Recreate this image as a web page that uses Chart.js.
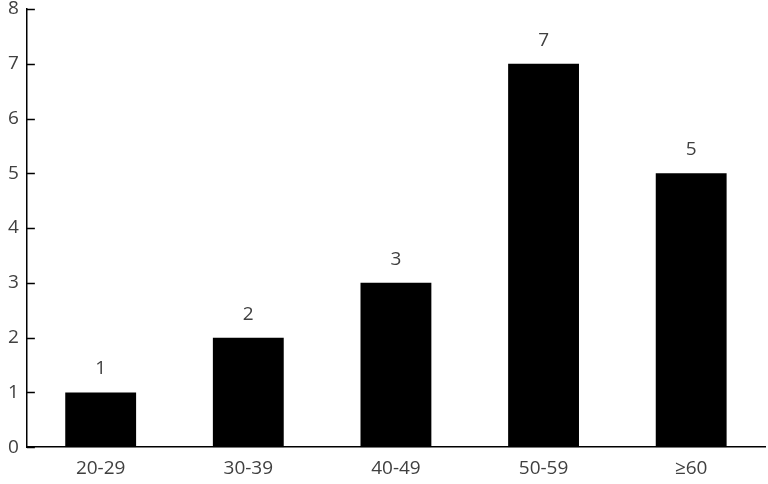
<!DOCTYPE html>
<html>
<head>
<meta charset="utf-8">
<script src="https://cdn.jsdelivr.net/npm/chart.js@4/dist/chart.umd.min.js"></script>
<style>
  html, body { margin: 0; padding: 0; background: #fff; }
  #wrap { width: 768px; height: 484px; }
</style>
</head>
<body>
<div id="wrap"><canvas id="chart"></canvas></div>
<script>
const categories = ['20-29', '30-39', '40-49', '50-59', '≥60'];
const counts = [1, 2, 3, 7, 5];
const yTicks = [0, 1, 2, 3, 4, 5, 6, 7, 8];

const FONT = '"Open Sans", "Liberation Sans", sans-serif';
const TEXT_COLOR = '#404040';

// y ticks point inward, like the source
const innerTicks = {
    id: 'innerTicks',
    afterDraw(chart) {
        const y = chart.scales.y;
        const ctx = chart.ctx;
        ctx.save();
        ctx.strokeStyle = '#000';
        ctx.lineWidth = 1.5;
        yTicks.forEach(v => {
            const py = Math.round(y.getPixelForValue(v)) + 0.5;
            ctx.beginPath();
            ctx.moveTo(y.right, py);
            ctx.lineTo(y.right + 8, py);
            ctx.stroke();
        });
        ctx.restore();
    }
};

const valueLabels = {
    id: 'valueLabels',
    afterDatasetsDraw(chart) {
        const ctx = chart.ctx;
        const meta = chart.getDatasetMeta(0);
        ctx.save();
        ctx.fillStyle = TEXT_COLOR;
        ctx.font = '19px ' + FONT;
        ctx.textAlign = 'center';
        ctx.textBaseline = 'bottom';
        meta.data.forEach((bar, i) => {
            ctx.fillText(String(counts[i]), bar.x, bar.y - 14);
        });
        ctx.restore();
    }
};

new Chart(document.getElementById('chart'), {
    type: 'bar',
    data: {
        labels: categories,
        datasets: [{
            data: counts,
            backgroundColor: '#000',
            borderWidth: 0,
            barPercentage: 0.48,
            categoryPercentage: 1.0
        }]
    },
    options: {
        responsive: true,
        maintainAspectRatio: false,
        animation: false,
        layout: { padding: { top: 0, right: 3, left: 0, bottom: -6 } },
        plugins: { legend: { display: false }, tooltip: { enabled: false } },
        scales: {
            x: {
                grid: { display: false, drawTicks: false },
                border: { display: true, color: '#000', width: 1.5 },
                ticks: { color: TEXT_COLOR, font: { family: FONT, size: 19 }, padding: 10 }
            },
            y: {
                min: 0,
                max: 8,
                afterBuildTicks: scale => { scale.ticks = yTicks.map(v => ({ value: v })); },
                grid: { display: false, drawTicks: false },
                border: { display: true, color: '#000', width: 1.5 },
                ticks: { color: TEXT_COLOR, font: { family: FONT, size: 19, lineHeight: 0.1 }, padding: 8 }
            }
        }
    },
    plugins: [innerTicks, valueLabels]
});
</script>
</body>
</html>
